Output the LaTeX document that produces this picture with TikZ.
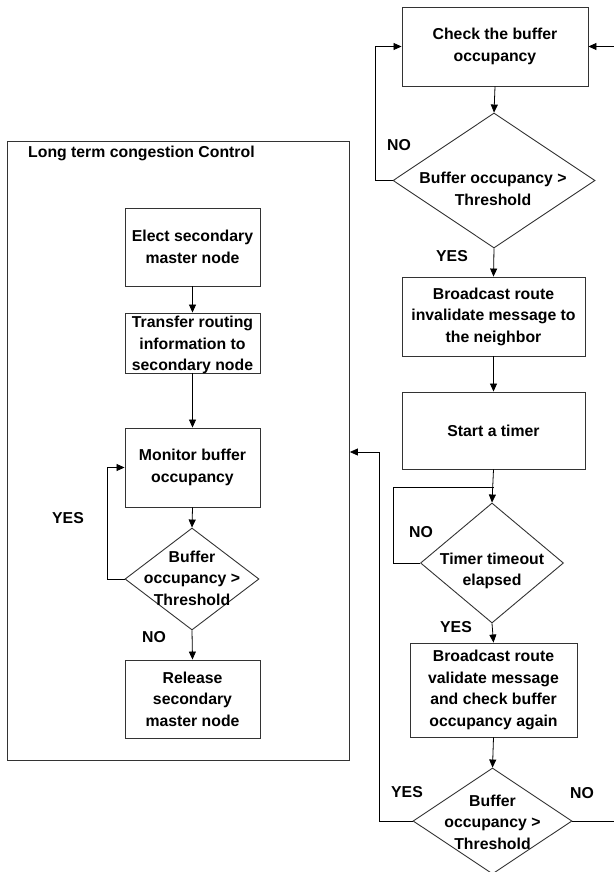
\documentclass[tikz,border=0pt]{standalone}
\usepackage{fontspec}
\setmainfont{Liberation Sans}
\usetikzlibrary{arrows.meta,shapes.geometric}
\begin{document}
\begin{tikzpicture}[x=1pt,y=-1pt,
  every node/.style={font=\fontsize{15.8}{21.5}\selectfont\bfseries},
  box/.style={draw=black!80,line width=0.9pt,rectangle,inner sep=0pt},
  dia/.style={draw=black!80,line width=0.9pt,diamond,inner sep=0pt},
  txt/.style={align=center,inner sep=0pt},
  lbl/.style={inner sep=0pt},
  arr/.style={line width=0.8pt,-{Triangle[length=8pt,width=7pt]}},
  ln/.style={line width=0.8pt}]
\useasboundingbox (0,0) rectangle (613,872);
% right column
\node[box,minimum width=186pt,minimum height=79pt] (c1) at (495,46.5) {};
\node[txt] (c1t) at (495,46.5) {Check the buffer\\occupancy};
\node[dia,minimum width=202pt,minimum height=135pt] (d1) at (494,180.5) {};
\node[txt] (d1t) at (493,189) {Buffer occupancy >\\Threshold};
\node[box,minimum width=183pt,minimum height=79pt] (b2) at (493.5,316.5) {};
\node[txt] (b2t) at (493.5,316.5) {Broadcast route\\invalidate message to\\the neighbor};
\node[box,minimum width=183pt,minimum height=77pt] (b3) at (493.5,430.5) {};
\node[txt] (b3t) at (493.5,430.5) {Start a timer};
\node[dia,minimum width=143pt,minimum height=120pt] (d2) at (492,563) {};
\node[txt] (d2t) at (492,571) {Timer timeout\\elapsed};
\node[box,minimum width=167pt,minimum height=94pt] (b4) at (493.5,690) {};
\node[txt] (b4t) at (493.5,690) {Broadcast route\\validate message\\and check buffer\\occupancy again};
\node[dia,minimum width=159pt,minimum height=106pt] (d3) at (492.5,821) {};
\node[txt] (d3t) at (492.5,822) {Buffer\\occupancy >\\Threshold};
% left frame
\node[box,anchor=north west,minimum width=342pt,minimum height=619pt] (frame) at (7,141) {};
\node[lbl,anchor=west] (title) at (28,153) {Long term congestion Control};
\node[box,minimum width=135pt,minimum height=78pt] (L1) at (192.5,247) {};
\node[txt] (L1t) at (192.5,247) {Elect secondary\\master node};
\node[box,minimum width=135pt,minimum height=60pt] (L2) at (192.5,343) {};
\node[txt] (L2t) at (192.5,345) {Transfer routing\\information to\\secondary node};
\node[box,minimum width=135pt,minimum height=79pt] (L3) at (192.5,467.5) {};
\node[txt] (L3t) at (192.5,467.5) {Monitor buffer\\occupancy};
\node[dia,minimum width=134pt,minimum height=102pt] (dL) at (192,579) {};
\node[txt] (dLt) at (192,578) {Buffer\\occupancy >\\Threshold};
\node[box,minimum width=135pt,minimum height=78pt] (L4) at (192.5,699) {};
\node[txt] (L4t) at (192.5,699) {Release\\secondary\\master node};
% labels
\node[lbl] (n1) at (399,145) {NO};
\node[lbl] (y1) at (452,256) {YES};
\node[lbl] (n2) at (421,532) {NO};
\node[lbl] (y2) at (456,627) {YES};
\node[lbl] (y3) at (407,792) {YES};
\node[lbl] (n3) at (582,793) {NO};
\node[lbl] (yL) at (68,518) {YES};
\node[lbl] (nL) at (154,637) {NO};
% connectors right
\draw[arr] (c1.south) -- (d1.north);
\draw[arr] (d1.west) -- ++(-17,0) |- (c1.west);
\draw[arr] (d1.south) -- (b2.north);
\draw[arr] (b2.south) -- (b3.north);
\draw[arr] (b3.south) -- (d2.north);
\coordinate (j) at (b3.south |- 0,487);
\draw[ln] (d2.west) -- ++(-27,0) |- (j);
\draw[arr] (d2.south) -- (b4.north);
\draw[arr] (b4.south) -- (d3.north);
\coordinate (fe) at (frame.east |- 0,452);
\draw[arr] (d3.west) -- ++(-33,0) |- (fe);
\coordinate (rt) at (614,821);
\draw[arr] (d3.east) -- (rt) |- (c1.east);
% connectors left
\draw[arr] (L1.south) -- (L2.north);
\draw[arr] (L2.south) -- (L3.north);
\draw[arr] (L3.south) -- (dL.north);
\draw[arr] (dL.south) -- (L4.north);
\draw[arr] (dL.west) -- ++(-17,0) |- (L3.west);
\end{tikzpicture}
\end{document}
